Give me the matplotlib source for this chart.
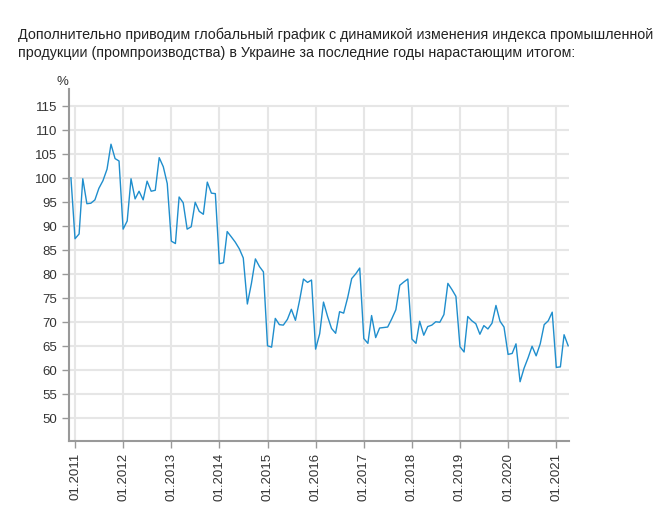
import matplotlib
matplotlib.use("Agg")
import matplotlib.pyplot as plt
import pandas as pd

plt.rcParams['font.family'] = ['Liberation Sans', 'DejaVu Sans']

# cumulative industrial production index, 12.2010 = 100
idx_2010 = [100.0]
idx_2011 = [87.3, 88.3, 99.8, 94.6, 94.7, 95.4, 97.8, 99.4, 101.8, 107.0, 104.0, 103.5]
idx_2012 = [89.3, 91.0, 99.8, 95.6, 97.2, 95.4, 99.3, 97.2, 97.4, 104.2, 102.3, 98.8]
idx_2013 = [86.8, 86.3, 96.0, 94.8, 89.3, 89.8, 94.9, 93.0, 92.4, 99.1, 96.8, 96.7]
idx_2014 = [82.1, 82.3, 88.8, 87.7, 86.6, 85.2, 83.3, 73.7, 78.0, 83.1, 81.5, 80.4]
idx_2015 = [65.0, 64.7, 70.7, 69.4, 69.3, 70.5, 72.6, 70.3, 74.4, 78.9, 78.2, 78.7]
idx_2016 = [64.3, 67.5, 74.1, 71.1, 68.6, 67.6, 72.1, 71.8, 75.1, 79.0, 80.0, 81.2]
idx_2017 = [66.5, 65.5, 71.3, 66.7, 68.7, 68.8, 68.9, 70.6, 72.5, 77.6, 78.3, 78.9]
idx_2018 = [66.4, 65.5, 70.1, 67.2, 69.0, 69.3, 70.0, 69.9, 71.5, 78.0, 76.7, 75.3]
idx_2019 = [64.8, 63.7, 71.1, 70.2, 69.6, 67.4, 69.2, 68.5, 69.7, 73.4, 70.1, 68.9]
idx_2020 = [63.2, 63.4, 65.4, 57.5, 60.3, 62.5, 64.9, 62.9, 65.4, 69.4, 70.2, 72.0]
idx_2021 = [60.5, 60.6, 67.3, 65.0]

values = (idx_2010 + idx_2011 + idx_2012 + idx_2013 + idx_2014 + idx_2015 +
          idx_2016 + idx_2017 + idx_2018 + idx_2019 + idx_2020 + idx_2021)
months = pd.date_range('2010-12-01', periods=len(values), freq='MS')

tick_dates = pd.date_range('2011-01-01', '2021-01-01', freq='YS')
tick_labels = [d.strftime('%m.%Y') for d in tick_dates]
y_ticks = list(range(50, 120, 5))

header_1 = "Дополнительно приводим глобальный график с динамикой изменения индекса промышленной"
header_2 = "продукции (промпроизводства) в Украине за последние годы нарастающим итогом:"

fig = plt.figure(figsize=(6.67, 5.10), dpi=100)
ax = fig.add_axes([0.1028, 0.1333, 0.7502, 0.6902])

y_low, y_high = 45.15, 118.5
ax.set_ylim(y_low, y_high)
ax.set_xlim(pd.Timestamp('2010-11-13'), pd.Timestamp('2021-04-07'))

# grid
for y in y_ticks:
    ax.axhline(y, color='#e6e6e6', lw=1.5, zorder=0)
ax.vlines(tick_dates, y_low, max(y_ticks), color='#e6e6e6', lw=1.5, zorder=0)

ax.plot(months, values, color='#1f8ecd', lw=1.0, zorder=3)

for side in ['top', 'right']:
    ax.spines[side].set_visible(False)
for side in ['left', 'bottom']:
    ax.spines[side].set_color('#999999')
    ax.spines[side].set_linewidth(1.5)

ax.set_yticks(y_ticks)
ax.set_xticks(tick_dates)
ax.set_xticklabels(tick_labels, rotation=90)
ax.tick_params(axis='both', direction='out', length=5, width=1, color='#999999',
               labelsize=9.5, labelcolor='#333333', pad=3)

fig.text(62 / 667, 1 - 82 / 510, '%', ha='center', va='center', fontsize=9.5, color='#333333')
fig.text(18 / 667, 1 - 35 / 510, header_1, ha='left', va='center', fontsize=10.25, color='#222222')
fig.text(18 / 667, 1 - 53 / 510, header_2, ha='left', va='center', fontsize=10.25, color='#222222')

plt.savefig("out.png", dpi=100)
